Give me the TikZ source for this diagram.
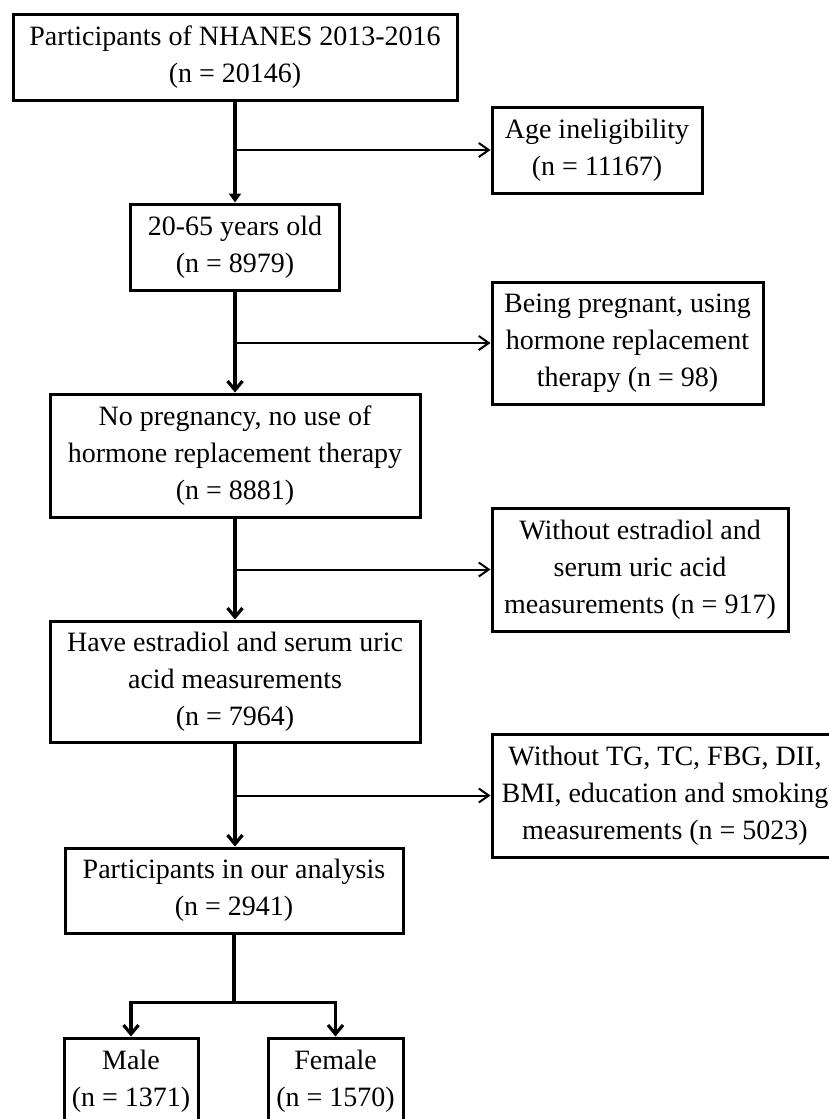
\documentclass[tikz,border=0pt]{standalone}
\usepackage{fontspec}
\setmainfont{Liberation Serif}
\usetikzlibrary{arrows.meta}
\begin{document}
\begin{tikzpicture}[x=0.5pt,y=-0.5pt,
  box/.style={draw, line width=1.5pt, inner sep=0pt, align=center,
    font=\fontsize{14}{18.5}\selectfont},
  mainline/.style={line width=2pt},
  firstarrow/.style={line width=2pt, -{Triangle[length=4.5pt,width=6pt]}},
  mainarrow/.style={line width=2pt, -{Straight Barb[length=4.5pt,width=7.5pt,line width=1.6pt]}},
  branch/.style={line width=1pt, -{Straight Barb[length=5pt,width=7pt,line width=1pt]}},
  splitarrow/.style={line width=1.6pt, {Straight Barb[length=4.5pt,width=7.5pt,line width=1.6pt]}-{Straight Barb[length=4.5pt,width=7.5pt,line width=1.6pt]}}
]
\useasboundingbox (0,0) rectangle (829,1119);
\clip (0,0) rectangle (829,1119);

% main column
\node[box, minimum width=222pt, minimum height=43pt] (b1) at (235,57)
  {Participants of NHANES 2013-2016\\(n = 20146)};
\node[box, minimum width=104.5pt, minimum height=43pt] (b2) at (235,247)
  {20-65 years old\\(n = 8979)};
\node[box, minimum width=185pt, minimum height=61.5pt] (b3) at (235,455.5)
  {No pregnancy, no use of\\hormone replacement therapy\\(n = 8881)};
\node[box, minimum width=185pt, minimum height=60.5pt] (b4) at (235,681.5)
  {Have estradiol and serum uric\\acid measurements\\(n = 7964)};
\node[box, minimum width=169pt, minimum height=42.5pt] (b5) at (234,890.5)
  {Participants in our analysis\\(n = 2941)};
\node[box, minimum width=67pt, minimum height=43pt] (male) at (131,1081)
  {Male\\(n = 1371)};
\node[box, minimum width=67.5pt, minimum height=43pt] (female) at (335.5,1081)
  {Female\\(n = 1570)};

% exclusion column
\node[box, minimum width=105pt, minimum height=43pt] (age) at (597,150)
  {Age ineligibility\\(n = 11167)};
\node[box, minimum width=135.5pt, minimum height=61pt] (preg) at (627.5,343)
  {Being pregnant, using\\hormone replacement\\therapy (n = 98)};
\node[box, minimum width=148pt, minimum height=61.5pt] (est) at (640,569.5)
  {Without estradiol and\\serum uric acid\\measurements (n = 917)};
\node[box, minimum width=173pt, minimum height=61.5pt] (miss) at (665,795.5)
  {Without TG, TC, FBG, DII,\\BMI, education and smoking\\measurements (n = 5023)};

% main arrows
\draw[firstarrow] (b1.south) -- (b2.north);
\draw[mainarrow] (b2.south) -- (b3.north);
\draw[mainarrow] (b3.south) -- (b4.north);
\draw[mainarrow] (b4.south -| b4.center) -- (b5.north -| b4.center);

% branches
\coordinate (j1) at (b1.south |- age.west);
\coordinate (j2) at (b2.south |- preg.west);
\coordinate (j3) at (b3.south |- est.west);
\coordinate (j4) at (b4.south |- miss.west);
\draw[branch] (j1) -- (age.west);
\draw[branch] (j2) -- (preg.west);
\draw[branch] (j3) -- (est.west);
\draw[branch] (j4) -- (miss.west);

% split
\coordinate (split) at (234,1002.5);
\draw[line width=1.6pt] (b5.south) -- (split);
\draw[splitarrow] (male.north) |- (split) -| (female.north);
\end{tikzpicture}
\end{document}
